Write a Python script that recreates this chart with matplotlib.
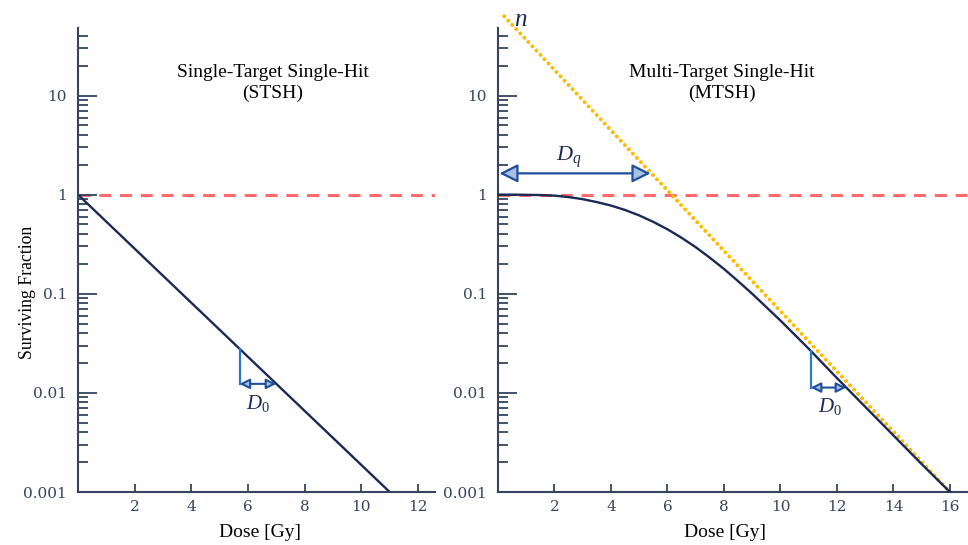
import numpy as np
import matplotlib.pyplot as plt
from matplotlib.ticker import LogLocator, FixedLocator, FuncFormatter, NullFormatter

plt.rcParams["font.family"] = ["Liberation Serif", "DejaVu Serif"]
plt.rcParams["mathtext.fontset"] = "custom"
plt.rcParams["mathtext.it"] = "Liberation Serif:italic"
plt.rcParams["mathtext.rm"] = "Liberation Serif"

# single-target single-hit (straight line on log scale)
stsh_dose = [0, 11]
stsh_sf = [1.0, 0.001]

# multi-target single-hit
mtsh_dose = [0, 0.5, 1, 1.5, 2, 2.5, 3, 3.5, 4, 4.5, 5, 5.5, 6, 6.5, 7, 7.5, 8, 8.5,
             9, 10, 11, 12, 13, 14, 15, 16]
mtsh_sf = [1.0, 1.0, 0.996, 0.99, 0.977, 0.945, 0.90, 0.841, 0.776, 0.70, 0.617, 0.531,
           0.447, 0.367, 0.295, 0.231, 0.178, 0.134, 0.100, 0.0537, 0.0279, 0.0141,
           0.00724, 0.00372, 0.00191, 0.001]

# extrapolated line back to n
extrap_dose = [0.22, 16]
extrap_sf = [63, 0.001]
n_label = (0.8, 58)

# Dq arrow
dq_dose = [0.05, 5.4]
dq_sf = 1.64

# D0 triangles: dose start, dose end
d0_left = [5.7, 7.0]
d0_right = [11.07, 12.33]

ytick_vals = [0.001, 0.01, 0.1, 1, 10]
xtick_left = [2, 4, 6, 8, 10, 12]
xtick_right = [2, 4, 6, 8, 10, 12, 14, 16]

navy = "#1b2a55"
axcol = "#33445f"
red = "#ff6b6b"
gold = "#fbbc05"
blue = "#2b78d2"
headfc = "#a9c0e6"

fig = plt.figure(figsize=(9.68, 5.45), dpi=100)
axL = fig.add_axes([78/968, 1-492/545, (435-78)/968, (492-28)/545])
axR = fig.add_axes([498/968, 1-492/545, (968-498)/968, (492-28)/545])


def style(ax, xmax, xticks):
    ax.set_yscale("log")
    ax.set_ylim(0.001, 48)
    ax.set_xlim(0, xmax)
    for s in ["top", "right"]:
        ax.spines[s].set_visible(False)
    for s in ["left", "bottom"]:
        ax.spines[s].set_color(axcol)
        ax.spines[s].set_linewidth(1.5)
    ax.yaxis.set_major_locator(FixedLocator(ytick_vals))
    ax.yaxis.set_major_formatter(FuncFormatter(lambda v, p: "%g" % v))
    ax.yaxis.set_minor_locator(LogLocator(base=10, subs=np.arange(2, 10)))
    ax.yaxis.set_minor_formatter(NullFormatter())
    ax.xaxis.set_major_locator(FixedLocator(xticks))
    ax.tick_params(axis="y", which="major", direction="in", length=14, width=1.3,
                   color=axcol, labelcolor=axcol, labelsize=11, pad=8)
    ax.tick_params(axis="y", which="minor", direction="in", length=7.5, width=1.3,
                   color=axcol)
    ax.tick_params(axis="x", which="major", direction="in", length=6, width=1.3,
                   color=axcol, labelcolor=axcol, labelsize=11, pad=6)
    for lab in ax.get_xticklabels() + ax.get_yticklabels():
        lab.set_fontfamily("DejaVu Serif")
    ax.axhline(1, color=red, lw=2.2, dashes=(3.9, 2.9), zorder=1)
    ax.set_xlabel("Dose [Gy]", fontsize=14, color="black")


def d0_triangle(ax, x0, x1, curve_x, curve_y, lx):
    ytop = np.exp(np.interp(x0, curve_x, np.log(curve_y)))
    ybot = np.exp(np.interp(x1, curve_x, np.log(curve_y)))
    ax.plot([x0, x0], [ytop, ybot], color=blue, lw=1.6, zorder=3)
    ax.annotate("", xy=(x1, ybot), xytext=(x0, ybot),
                arrowprops=dict(arrowstyle="<|-|>", mutation_scale=15, fc=headfc,
                                ec="#1f4f9a", lw=1.5, shrinkA=0, shrinkB=0), zorder=4)
    ax.text(lx, ybot * 0.64, "$D_0$", color=navy, fontsize=15, ha="center", va="center")


style(axL, 12.6, xtick_left)
style(axR, 16.64, xtick_right)

# left panel
axL.plot(stsh_dose, stsh_sf, color=navy, lw=1.7, zorder=2)
d0_triangle(axL, d0_left[0], d0_left[1], stsh_dose, stsh_sf, 6.35)
axL.text(0.546, 0.882, "Single-Target Single-Hit\n(STSH)", transform=axL.transAxes,
         ha="center", va="center", fontsize=14, linespacing=1.3)

# right panel
axR.plot(extrap_dose, extrap_sf, color=gold, lw=2.9, dashes=(0.01, 1.45),
         dash_capstyle="round", clip_on=False, zorder=2)
axR.plot(mtsh_dose, mtsh_sf, color=navy, lw=1.7, zorder=3)
d0_triangle(axR, d0_right[0], d0_right[1], mtsh_dose, mtsh_sf, 11.75)
axR.annotate("", xy=(dq_dose[1], dq_sf), xytext=(dq_dose[0], dq_sf),
             arrowprops=dict(arrowstyle="<|-|>", mutation_scale=28, fc=headfc,
                             ec="#1f4f9a", lw=1.6, shrinkA=0, shrinkB=0), zorder=4)
axR.text(2.5, dq_sf * 1.45, "$D_q$", color=navy, fontsize=16, ha="center", va="center")
axR.text(n_label[0], n_label[1], "$n$", color=navy, fontsize=18, ha="center",
         va="center", clip_on=False)
axR.text(0.477, 0.882, "Multi-Target Single-Hit\n(MTSH)", transform=axR.transAxes,
         ha="center", va="center", fontsize=14, linespacing=1.3)
axR.xaxis.set_label_coords((725-498)/470, -0.07)
axL.xaxis.set_label_coords(0.51, -0.07)

fig.text(27/968, 1-292/545, "Surviving Fraction", rotation=90, ha="center",
         va="center", fontsize=12.8)

fig.savefig("out.png", dpi=100)
